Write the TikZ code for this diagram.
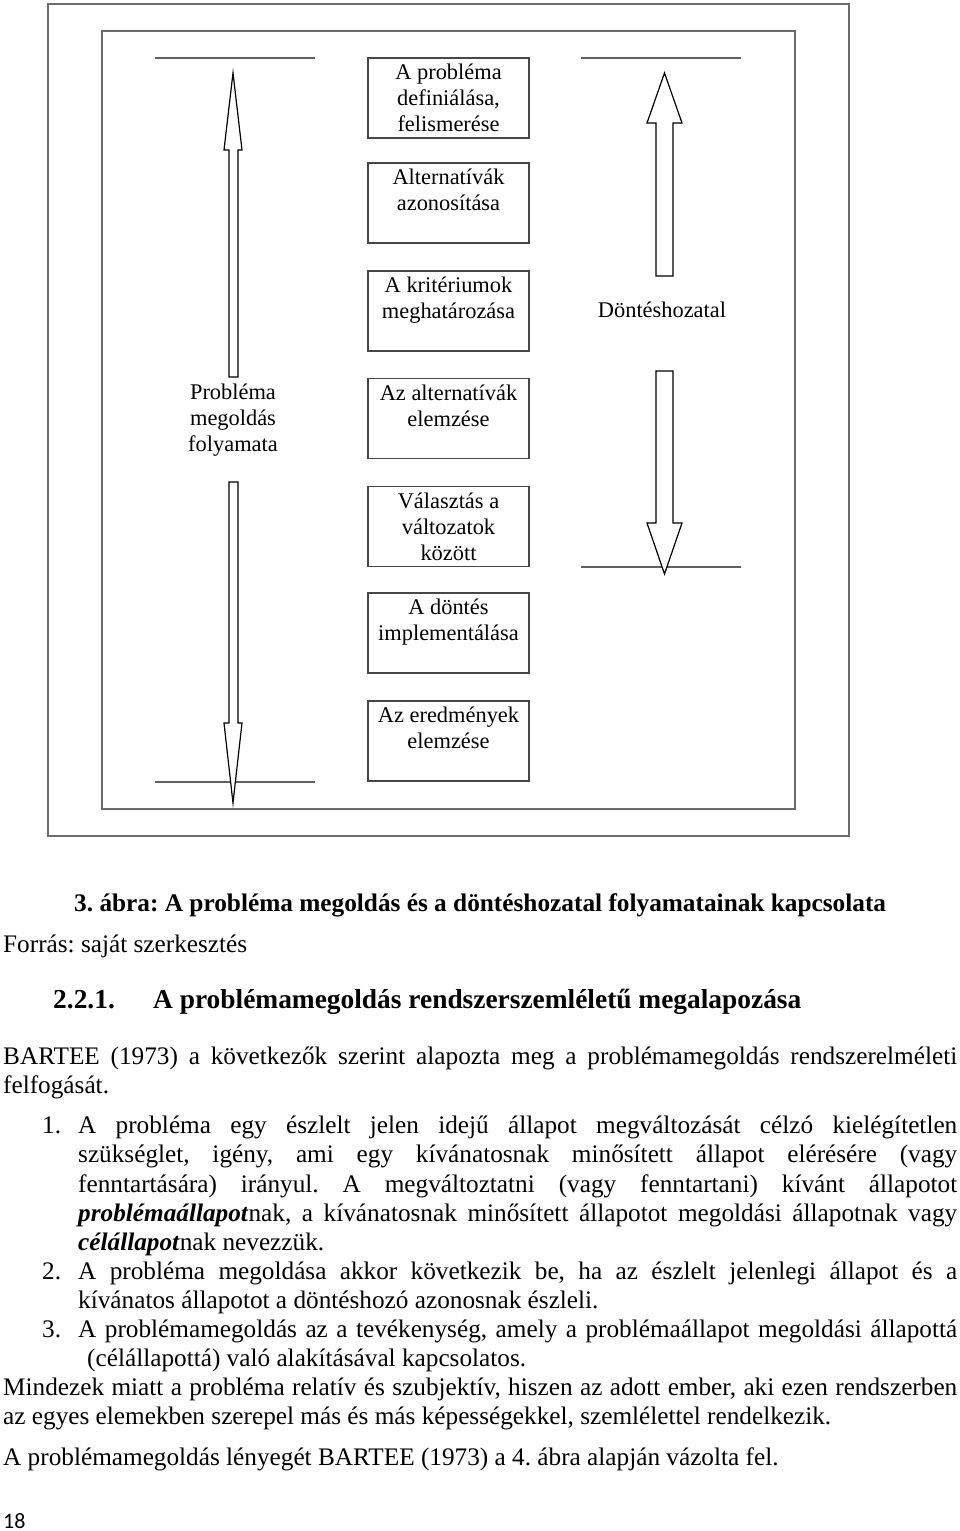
\documentclass[tikz,border=0pt]{standalone}
\usepackage{fontspec}
\setmainfont{Liberation Serif}
\newfontfamily\pagenumfont{Carlito}
\frenchspacing
\begin{document}
\begin{tikzpicture}[x=1pt,y=-1pt,
  frame/.style={draw=black!58, line width=1.4pt},
  pbox/.style={draw=black!72, line width=1.2pt, minimum width=161pt, minimum height=80pt, inner sep=0pt},
  boxtext/.style={font=\fontsize{22.4}{26}\selectfont, align=center, inner sep=0pt, anchor=north},
  sidetext/.style={font=\fontsize{22.4}{26}\selectfont, align=center, inner sep=0pt},
  blockarrow/.style={draw=black, line width=1.2pt, fill=white, line join=miter},
  hrule/.style={draw=black!62, line width=1.3pt},
  bodyline/.style={font=\fontsize{25.25}{29}\selectfont, anchor=base west, inner sep=0pt},
  boldline/.style={font=\fontsize{25.3}{29}\selectfont\bfseries, anchor=base west, inner sep=0pt},
  headline/.style={font=\fontsize{27.4}{31}\selectfont\bfseries, anchor=base west, inner sep=0pt}
]
\useasboundingbox (0,0) rectangle (960,1531);

% frames
\draw[frame] (48,4) rectangle (849,836);
\draw[frame] (102,31) rectangle (795,809);

% horizontal rules
\draw[hrule] (155,58) -- (315,58);
\draw[hrule] (155,782) -- (315,782);
\draw[hrule] (581,58) -- (741,58);
\draw[hrule] (581,567) -- (741,567);

% left block arrows
\draw[blockarrow] (233,73) -- (242,150) -- (238,150) -- (238,377) -- (229,377) -- (229,150) -- (224,150) -- cycle;
\draw[blockarrow] (229,482) -- (238,482) -- (238,723) -- (242,723) -- (233,803) -- (224,723) -- (229,723) -- cycle;

% right block arrows
\draw[blockarrow] (664.5,73) -- (682,123) -- (673,123) -- (673,276) -- (656,276) -- (656,123) -- (647,123) -- cycle;
\draw[blockarrow] (656,371) -- (673,371) -- (673,523) -- (682,523) -- (664.5,574) -- (647,523) -- (656,523) -- cycle;

% boxes
\node[pbox] (b1) at (448.5,98) {};
\node[pbox] (b2) at (448.5,203) {};
\node[pbox] (b3) at (448.5,311) {};
\node[pbox] (b4) at (448.5,418.5) {};
\node[pbox] (b5) at (448.5,526.5) {};
\node[pbox] (b6) at (448.5,633) {};
\node[pbox] (b7) at (448.5,741) {};

\node[boxtext] (t1) at ([yshift=-4pt]b1.north) {\strut A probléma\\\strut definiálása,\\\strut felismerése};
\node[boxtext] (t2) at ([yshift=-4pt]b2.north) {\strut Alternatívák\\\strut azonosítása};
\node[boxtext] (t3) at ([yshift=-4pt]b3.north) {\strut A kritériumok\\\strut meghatározása};
\node[boxtext] (t4) at ([yshift=-4pt]b4.north) {\strut Az alternatívák\\\strut elemzése};
\node[boxtext] (t5) at ([yshift=-4pt]b5.north) {\strut Választás a\\\strut változatok\\\strut között};
\node[boxtext] (t6) at ([yshift=-3.5pt]b6.north) {\strut A döntés\\\strut implementálása};
\node[boxtext] (t7) at ([yshift=-3.5pt]b7.north) {\strut Az eredmények\\\strut elemzése};

% side labels
\node[sidetext] (lp) at (233,420) {Probléma\\megoldás\\folyamata};
\node[sidetext] (ld) at (662,310) {Döntéshozatal};

% caption and text
\node[boldline] (cap) at (74,911) {3. ábra: A probléma megoldás és a döntéshozatal folyamatainak kapcsolata};
\node[bodyline] (src) at (3,952) {Forrás: saját szerkesztés};
\node[headline] (hn) at (53,1008) {2.2.1.};
\node[headline] (ht) at (153,1008) {A problémamegoldás rendszerszemléletű megalapozása};

\node[bodyline] (p1a) at (3,1064) {\makebox[954pt][s]{BARTEE (1973) a következők szerint alapozta meg a problémamegoldás rendszerelméleti}};
\node[bodyline] (p1b) at (3,1093) {felfogását.};

\node[bodyline] (n1) at (42,1133) {1.};
\node[bodyline] (i1a) at (78,1133) {\makebox[879pt][s]{A probléma egy észlelt jelen idejű állapot megváltozását célzó kielégítetlen}};
\node[bodyline] (i1b) at (78,1162) {\makebox[879pt][s]{szükséglet, igény, ami egy kívánatosnak minősített állapot elérésére (vagy}};
\node[bodyline] (i1c) at (78,1192) {\makebox[879pt][s]{fenntartására) irányul. A megváltoztatni (vagy fenntartani) kívánt állapotot}};
\node[bodyline] (i1d) at (78,1221) {\makebox[879pt][s]{\textbf{\textit{problémaállapot}}nak, a kívánatosnak minősített állapotot megoldási állapotnak vagy}};
\node[bodyline] (i1e) at (78,1250) {\textbf{\textit{célállapot}}nak nevezzük.};

\node[bodyline] (n2) at (42,1279) {2.};
\node[bodyline] (i2a) at (78,1279) {\makebox[879pt][s]{A probléma megoldása akkor következik be, ha az észlelt jelenlegi állapot és a}};
\node[bodyline] (i2b) at (78,1308) {kívánatos állapotot a döntéshozó azonosnak észleli.};

\node[bodyline] (n3) at (42,1337) {3.};
\node[bodyline] (i3a) at (78,1337) {\makebox[879pt][s]{A problémamegoldás az a tevékenység, amely a problémaállapot megoldási állapottá}};
\node[bodyline] (i3b) at (87,1366) {(célállapottá) való alakításával kapcsolatos.};

\node[bodyline] (p2a) at (3,1395) {\makebox[954pt][s]{Mindezek miatt a probléma relatív és szubjektív, hiszen az adott ember, aki ezen rendszerben}};
\node[bodyline] (p2b) at (3,1424) {az egyes elemekben szerepel más és más képességekkel, szemlélettel rendelkezik.};

\node[bodyline] (p3) at (3,1465) {A problémamegoldás lényegét BARTEE (1973) a 4. ábra alapján vázolta fel.};

\node[anchor=base west, inner sep=0pt, font=\pagenumfont\fontsize{22}{26}\selectfont] (pg) at (3,1528) {18};
\end{tikzpicture}
\end{document}
